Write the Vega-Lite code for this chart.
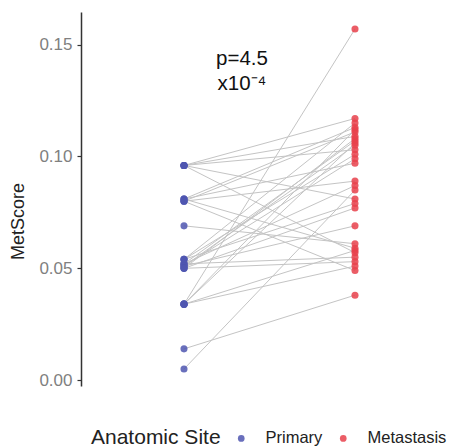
{
  "$schema": "https://vega.github.io/schema/vega-lite/v6.json",
  "width": 369,
  "height": 374,
  "autosize": "none",
  "padding": {"left": 81, "top": 12, "right": 0, "bottom": 61},
  "background": "white",
  "config": {
    "font": "Liberation Sans",
    "view": {"stroke": null}
  },
  "datasets": {
    "pairs": [
      {"pair": 1, "site": "Primary", "score": 0.096}, {"pair": 1, "site": "Metastasis", "score": 0.117},
      {"pair": 2, "site": "Primary", "score": 0.096}, {"pair": 2, "site": "Metastasis", "score": 0.109},
      {"pair": 3, "site": "Primary", "score": 0.096}, {"pair": 3, "site": "Metastasis", "score": 0.103},
      {"pair": 4, "site": "Primary", "score": 0.096}, {"pair": 4, "site": "Metastasis", "score": 0.081},
      {"pair": 5, "site": "Primary", "score": 0.096}, {"pair": 5, "site": "Metastasis", "score": 0.057},
      {"pair": 6, "site": "Primary", "score": 0.081}, {"pair": 6, "site": "Metastasis", "score": 0.113},
      {"pair": 7, "site": "Primary", "score": 0.081}, {"pair": 7, "site": "Metastasis", "score": 0.097},
      {"pair": 8, "site": "Primary", "score": 0.081}, {"pair": 8, "site": "Metastasis", "score": 0.059},
      {"pair": 9, "site": "Primary", "score": 0.080}, {"pair": 9, "site": "Metastasis", "score": 0.111},
      {"pair": 10, "site": "Primary", "score": 0.080}, {"pair": 10, "site": "Metastasis", "score": 0.089},
      {"pair": 11, "site": "Primary", "score": 0.080}, {"pair": 11, "site": "Metastasis", "score": 0.049},
      {"pair": 12, "site": "Primary", "score": 0.069}, {"pair": 12, "site": "Metastasis", "score": 0.061},
      {"pair": 13, "site": "Primary", "score": 0.054}, {"pair": 13, "site": "Metastasis", "score": 0.115},
      {"pair": 14, "site": "Primary", "score": 0.054}, {"pair": 14, "site": "Metastasis", "score": 0.101},
      {"pair": 15, "site": "Primary", "score": 0.054}, {"pair": 15, "site": "Metastasis", "score": 0.079},
      {"pair": 16, "site": "Primary", "score": 0.052}, {"pair": 16, "site": "Metastasis", "score": 0.107},
      {"pair": 17, "site": "Primary", "score": 0.052}, {"pair": 17, "site": "Metastasis", "score": 0.087},
      {"pair": 18, "site": "Primary", "score": 0.052}, {"pair": 18, "site": "Metastasis", "score": 0.055},
      {"pair": 19, "site": "Primary", "score": 0.051}, {"pair": 19, "site": "Metastasis", "score": 0.105},
      {"pair": 20, "site": "Primary", "score": 0.051}, {"pair": 20, "site": "Metastasis", "score": 0.099},
      {"pair": 21, "site": "Primary", "score": 0.051}, {"pair": 21, "site": "Metastasis", "score": 0.069},
      {"pair": 22, "site": "Primary", "score": 0.050}, {"pair": 22, "site": "Metastasis", "score": 0.108},
      {"pair": 23, "site": "Primary", "score": 0.050}, {"pair": 23, "site": "Metastasis", "score": 0.077},
      {"pair": 24, "site": "Primary", "score": 0.050}, {"pair": 24, "site": "Metastasis", "score": 0.053},
      {"pair": 25, "site": "Primary", "score": 0.034}, {"pair": 25, "site": "Metastasis", "score": 0.157},
      {"pair": 26, "site": "Primary", "score": 0.034}, {"pair": 26, "site": "Metastasis", "score": 0.112},
      {"pair": 27, "site": "Primary", "score": 0.034}, {"pair": 27, "site": "Metastasis", "score": 0.106},
      {"pair": 28, "site": "Primary", "score": 0.034}, {"pair": 28, "site": "Metastasis", "score": 0.058},
      {"pair": 29, "site": "Primary", "score": 0.034}, {"pair": 29, "site": "Metastasis", "score": 0.051},
      {"pair": 30, "site": "Primary", "score": 0.014}, {"pair": 30, "site": "Metastasis", "score": 0.038},
      {"pair": 31, "site": "Primary", "score": 0.005}, {"pair": 31, "site": "Metastasis", "score": 0.085}
    ],
    "note": [{"site": "Primary", "score": 0.1411, "label": ["p=4.5", "x10⁻⁴"]}]
  },
  "encoding": {
    "x": {
      "field": "site",
      "type": "nominal",
      "sort": ["Primary", "Metastasis"],
      "scale": {"type": "point", "domain": ["Primary", "Metastasis"], "range": [103, 274], "padding": 0},
      "axis": null
    },
    "y": {
      "field": "score",
      "type": "quantitative",
      "scale": {"domain": [-0.0026, 0.1646], "nice": false, "zero": false},
      "axis": {
        "title": "MetScore",
        "values": [0, 0.05, 0.1, 0.15],
        "format": ".2f",
        "grid": false,
        "domainColor": "#333333",
        "domainWidth": 1.5,
        "tickColor": "#333333",
        "tickWidth": 1.2,
        "tickSize": 4,
        "labelColor": "#808080",
        "labelFontSize": 17,
        "labelPadding": 5,
        "titleFontSize": 18,
        "titleFontWeight": "normal",
        "titleColor": "#222222",
        "titleY": 209,
        "titleX": -54
      }
    }
  },
  "layer": [
    {
      "data": {"name": "pairs"},
      "mark": {"type": "line", "color": "#c4c4c4", "strokeWidth": 1},
      "encoding": {"detail": {"field": "pair"}}
    },
    {
      "data": {"name": "pairs"},
      "mark": {"type": "circle", "size": 50, "opacity": 0.85},
      "encoding": {
        "color": {
          "field": "site",
          "type": "nominal",
          "sort": ["Primary", "Metastasis"],
          "scale": {"domain": ["Primary", "Metastasis"], "range": ["#4f56b0", "#e8414b"]},
          "legend": {
            "title": "Anatomic Site",
            "orient": "none",
            "direction": "horizontal",
            "titleOrient": "left",
            "legendX": 10,
            "legendY": 418,
            "titleFontSize": 21,
            "titleFontWeight": "normal",
            "titleColor": "#222222",
            "titlePadding": 12,
            "labelFontSize": 16.5,
            "labelColor": "#222222",
            "labelOffset": 16,
            "symbolType": "circle",
            "symbolSize": 45,
            "symbolStrokeWidth": 0,
            "symbolOpacity": 0.85,
            "columnPadding": 12
          }
        }
      }
    },
    {
      "data": {"name": "note"},
      "mark": {"type": "text", "fontSize": 20.5, "dx": 58, "lineHeight": 25, "color": "#111111", "baseline": "alphabetic"},
      "encoding": {"text": {"field": "label"}}
    }
  ]
}
